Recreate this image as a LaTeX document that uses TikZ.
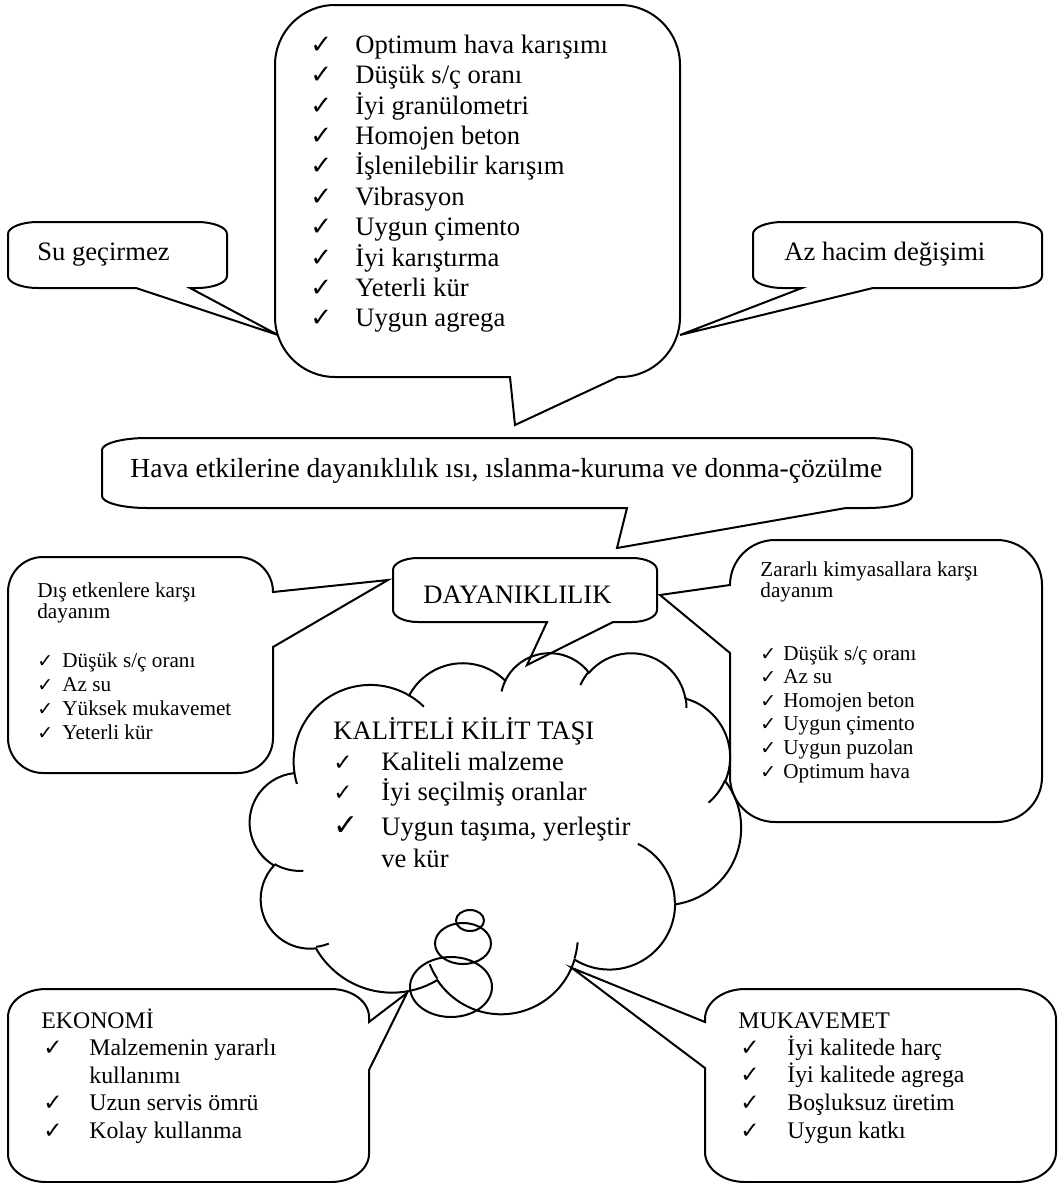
\documentclass[tikz,border=0pt]{standalone}
\usepackage{fontspec}
\setmainfont{Liberation Serif}
\newfontfamily\isaret{DejaVu Sans}
\newcommand{\onay}[1]{{\isaret\fontsize{#1}{#1}\selectfont ✓}}
\tikzset{
  balon/.style={draw=black, line width=1pt},
  yazi/.style={anchor=base west, inner sep=0pt, font=\fontsize{13.3}{15}\selectfont},
  yaziorta/.style={anchor=base west, inner sep=0pt, font=\fontsize{11.9}{14}\selectfont},
  yazikucuk/.style={anchor=base west, inner sep=0pt, font=\fontsize{10.6}{12}\selectfont}
}

\begin{document}
\begin{tikzpicture}[x=0.5pt, y=-0.5pt]
  \useasboundingbox (0,0) rectangle (1060,1183);

  % ust balon
  \draw[balon] (335,5) -- (620,5) arc(-90:0:60) -- (680,317) arc(0:90:60) -- (618,377) -- (515,425) -- (510,377) -- (335,377) arc(90:180:60) -- (275,65) arc(180:270:60) -- cycle;
  \foreach \t [count=\i] in {Optimum hava karışımı, Düşük s/ç oranı, İyi granülometri, Homojen beton, İşlenilebilir karışım, Vibrasyon, Uygun çimento, İyi karıştırma, Yeterli kür, Uygun agrega}
    \node[yazi] (kosul\i) at (310,{53.3+30.4*(\i-1)}) {\makebox[22.5pt][l]{\onay{13}}\t};

  \draw[balon] (38,222) -- (197,222) arc(-90:0:30 and 12) -- (227,276) arc(0:90:30 and 12) -- (190,288) -- (278,335) -- (136,288) -- (38,288) arc(90:180:30 and 12) -- (8,234) arc(180:270:30 and 12) -- cycle;
  \node[yazi] (su) at (37,260) {Su geçirmez};

  \draw[balon] (783,222) -- (1012,222) arc(-90:0:30 and 12) -- (1042,276) arc(0:90:30 and 12) -- (873,288) -- (680,335) -- (802,288) -- (783,288) arc(90:180:30 and 12) -- (753,234) arc(180:270:30 and 12) -- cycle;
  \node[yazi] (az) at (784,260) {Az hacim değişimi};

  \draw[balon] (147,438) -- (867,438) arc(-90:0:45 and 12) -- (912,496) arc(0:90:45 and 12) -- (846,508) -- (617,548) -- (627,508) -- (147,508) arc(90:180:45 and 12) -- (102,450) arc(180:270:45 and 12) -- cycle;
  \node[yazi, font=\fontsize{13.8}{15}\selectfont] (hava) at (130,477) {Hava etkilerine dayanıklılık ısı, ıslanma-kuruma ve donma-çözülme};

  \draw[balon] (418,558) -- (632,558) arc(-90:0:25 and 12) -- (657,610) arc(0:90:25 and 12) -- (613,622) -- (527,665) -- (547,622) -- (418,622) arc(90:180:25 and 12) -- (393,570) arc(180:270:25 and 12) -- cycle;
  \node[yazi] (dayan) at (423,603) {DAYANIKLILIK};

  % yan balonlar
  \draw[balon] (43,557) -- (238,557) arc(-90:0:35) -- (388,580) -- (273,647) -- (273,738) arc(0:90:35) -- (43,773) arc(90:180:35) -- (8,592) arc(180:270:35) -- cycle;
  \node[yazikucuk] (disust1) at (37,597) {Dış etkenlere karşı};
  \node[yazikucuk] (disust2) at (37,618) {dayanım};
  \foreach \t [count=\i] in {Düşük s/ç oranı, Az su, Yüksek mukavemet, Yeterli kür}
    \node[yazikucuk] (dis\i) at (37,{667+24*(\i-1)}) {\makebox[12.5pt][l]{\onay{9.5}}\t};

  \draw[balon] (775,540) -- (997,540) arc(-90:0:45) -- (1042,777) arc(0:90:45) -- (775,822) arc(90:180:45) -- (730,653) -- (660,595) -- (730,585) arc(180:270:45) -- cycle;
  \node[yazikucuk] (zararust1) at (760,576) {Zararlı kimyasallara karşı};
  \node[yazikucuk] (zararust2) at (760,597) {dayanım};
  \foreach \t [count=\i] in {Düşük s/ç oranı, Az su, Homojen beton, Uygun çimento, Uygun puzolan, Optimum hava}
    \node[yazikucuk] (zarar\i) at (760,{660+23.6*(\i-1)}) {\makebox[11.5pt][l]{\onay{9.5}}\t};

  % bulut
  \begin{scope}[shift={(250,652)}, x=0.05683pt, y=-0.04178pt]
    \draw[balon] (390,1437)
      arc[start angle=-187.746, end angle=-59.636, x radius=675.3, y radius=919]
      arc[start angle=-152.03, end angle=-45.453, x radius=533.3, y radius=726.7]
      arc[start angle=-153.489, end angle=-37.331, x radius=436.5, y radius=594.5]
      arc[start angle=-139.714, end angle=-10.212, x radius=485.7, y radius=659.5]
      arc[start angle=-74.767, end angle=23.21, x radius=533.3, y radius=727.3]
      arc[start angle=-37.53, end angle=81.863, x radius=677.5, y radius=922]
      arc[start angle=0.46, end angle=121.975, x radius=578.5, y radius=786.7]
      arc[start angle=16.845, end angle=146.237, x radius=675.2, y radius=921.5]
      arc[start angle=58.987, end angle=150.185, x radius=772, y radius=1054.3]
      arc[start angle=-276.694, end angle=-136.892, x radius=436, y radius=591.8]
      arc[start angle=-239.651, end angle=-95.888, x radius=434.5, y radius=594.5]
      -- cycle;
    \draw[balon] (469.3,2617.7) arc[start angle=85.546, end angle=120.349, x radius=434.5, y radius=594.5];
    \draw[balon] (692.8,3489.9) arc[start angle=68.234, end angle=83.306, x radius=436, y radius=591.8];
    \draw[balon] (1647.8,3909) arc[start angle=146.237, end angle=158.474, x radius=675.2, y radius=921.5];
    \draw[balon] (2882.7,3475.1) arc[start angle=4.738, end angle=16.845, x radius=675.2, y radius=921.5];
    \draw[balon] (3412.9,2295.4) arc[start angle=-64.028, end angle=0.46, x radius=578.5, y radius=786.7];
    \draw[balon] (4179.8,1535.4) arc[start angle=23.21, end angle=49.639, x radius=533.3, y radius=727.3];
    \draw[balon] (3832.4,542.6) arc[start angle=-10.212, end angle=0.821, x radius=485.7, y radius=659.5];
    \draw[balon] (2907.8,395.2) arc[start angle=-156.282, end angle=-139.714, x radius=485.7, y radius=659.5];
    \draw[balon] (2214.1,472) arc[start angle=-167.726, end angle=-153.489, x radius=436.5, y radius=594.5];
    \draw[balon] (1400,519.2) arc[start angle=-59.636, end angle=-45.74, x radius=675.3, y radius=919];
    \draw[balon] (412.7,1578.9) arc[start angle=163.193, end angle=172.254, x radius=675.3, y radius=919];
  \end{scope}
  \draw[balon] (451,987) ellipse[x radius=41, y radius=30];
  \draw[balon] (463,943.5) ellipse[x radius=28, y radius=20.5];
  \draw[balon] (470,920.5) ellipse[x radius=14, y radius=10.5];
  \node[yazi] (kalite) at (333,739) {KALİTELİ KİLİT TAŞI};
  \node[yazi] (kalite1) at (333,770) {\makebox[24pt][l]{\onay{11.5}}Kaliteli malzeme};
  \node[yazi] (kalite2) at (333,800) {\makebox[24pt][l]{\onay{11.5}}İyi seçilmiş oranlar};
  \node[yazi] (kalite3) at (333,835) {\makebox[24pt][l]{\onay{15}}Uygun taşıma, yerleştir};
  \node[yazi] (kalite4) at (381,867) {ve kür};

  % alt balonlar
  \draw[balon] (46,989) -- (331,989) arc(-90:0:38 and 28) -- (369,1022) -- (407,993) -- (369,1070) -- (369,1154) arc(0:90:38 and 28) -- (46,1182) arc(90:180:38 and 28) -- (8,1017) arc(180:270:38 and 28) -- cycle;
  \node[yaziorta] (eko) at (41,1028) {EKONOMİ};
  \node[yaziorta] (eko1) at (43,1055) {\makebox[23pt][l]{\onay{11.5}}Malzemenin yararlı};
  \node[yaziorta] (eko2) at (89,1083) {kullanımı};
  \node[yaziorta] (eko3) at (43,1110) {\makebox[23pt][l]{\onay{11.5}}Uzun servis ömrü};
  \node[yaziorta] (eko4) at (43,1138) {\makebox[23pt][l]{\onay{11.5}}Kolay kullanma};

  \draw[balon] (745,989) -- (1016,989) arc(-90:0:40 and 30) -- (1056,1152) arc(0:90:40 and 30) -- (745,1182) arc(90:180:40 and 30) -- (705,1068) -- (572,968) -- (705,1022) -- (705,1019) arc(180:270:40 and 30) -- cycle;
  \node[yaziorta] (muk) at (738,1028) {MUKAVEMET};
  \foreach \t [count=\i] in {İyi kalitede harç, İyi kalitede agrega, Boşluksuz üretim, Uygun katkı}
    \node[yaziorta] (muk\i) at (740,{1055+27.7*(\i-1)}) {\makebox[23.5pt][l]{\onay{11.5}}\t};
\end{tikzpicture}
\end{document}
